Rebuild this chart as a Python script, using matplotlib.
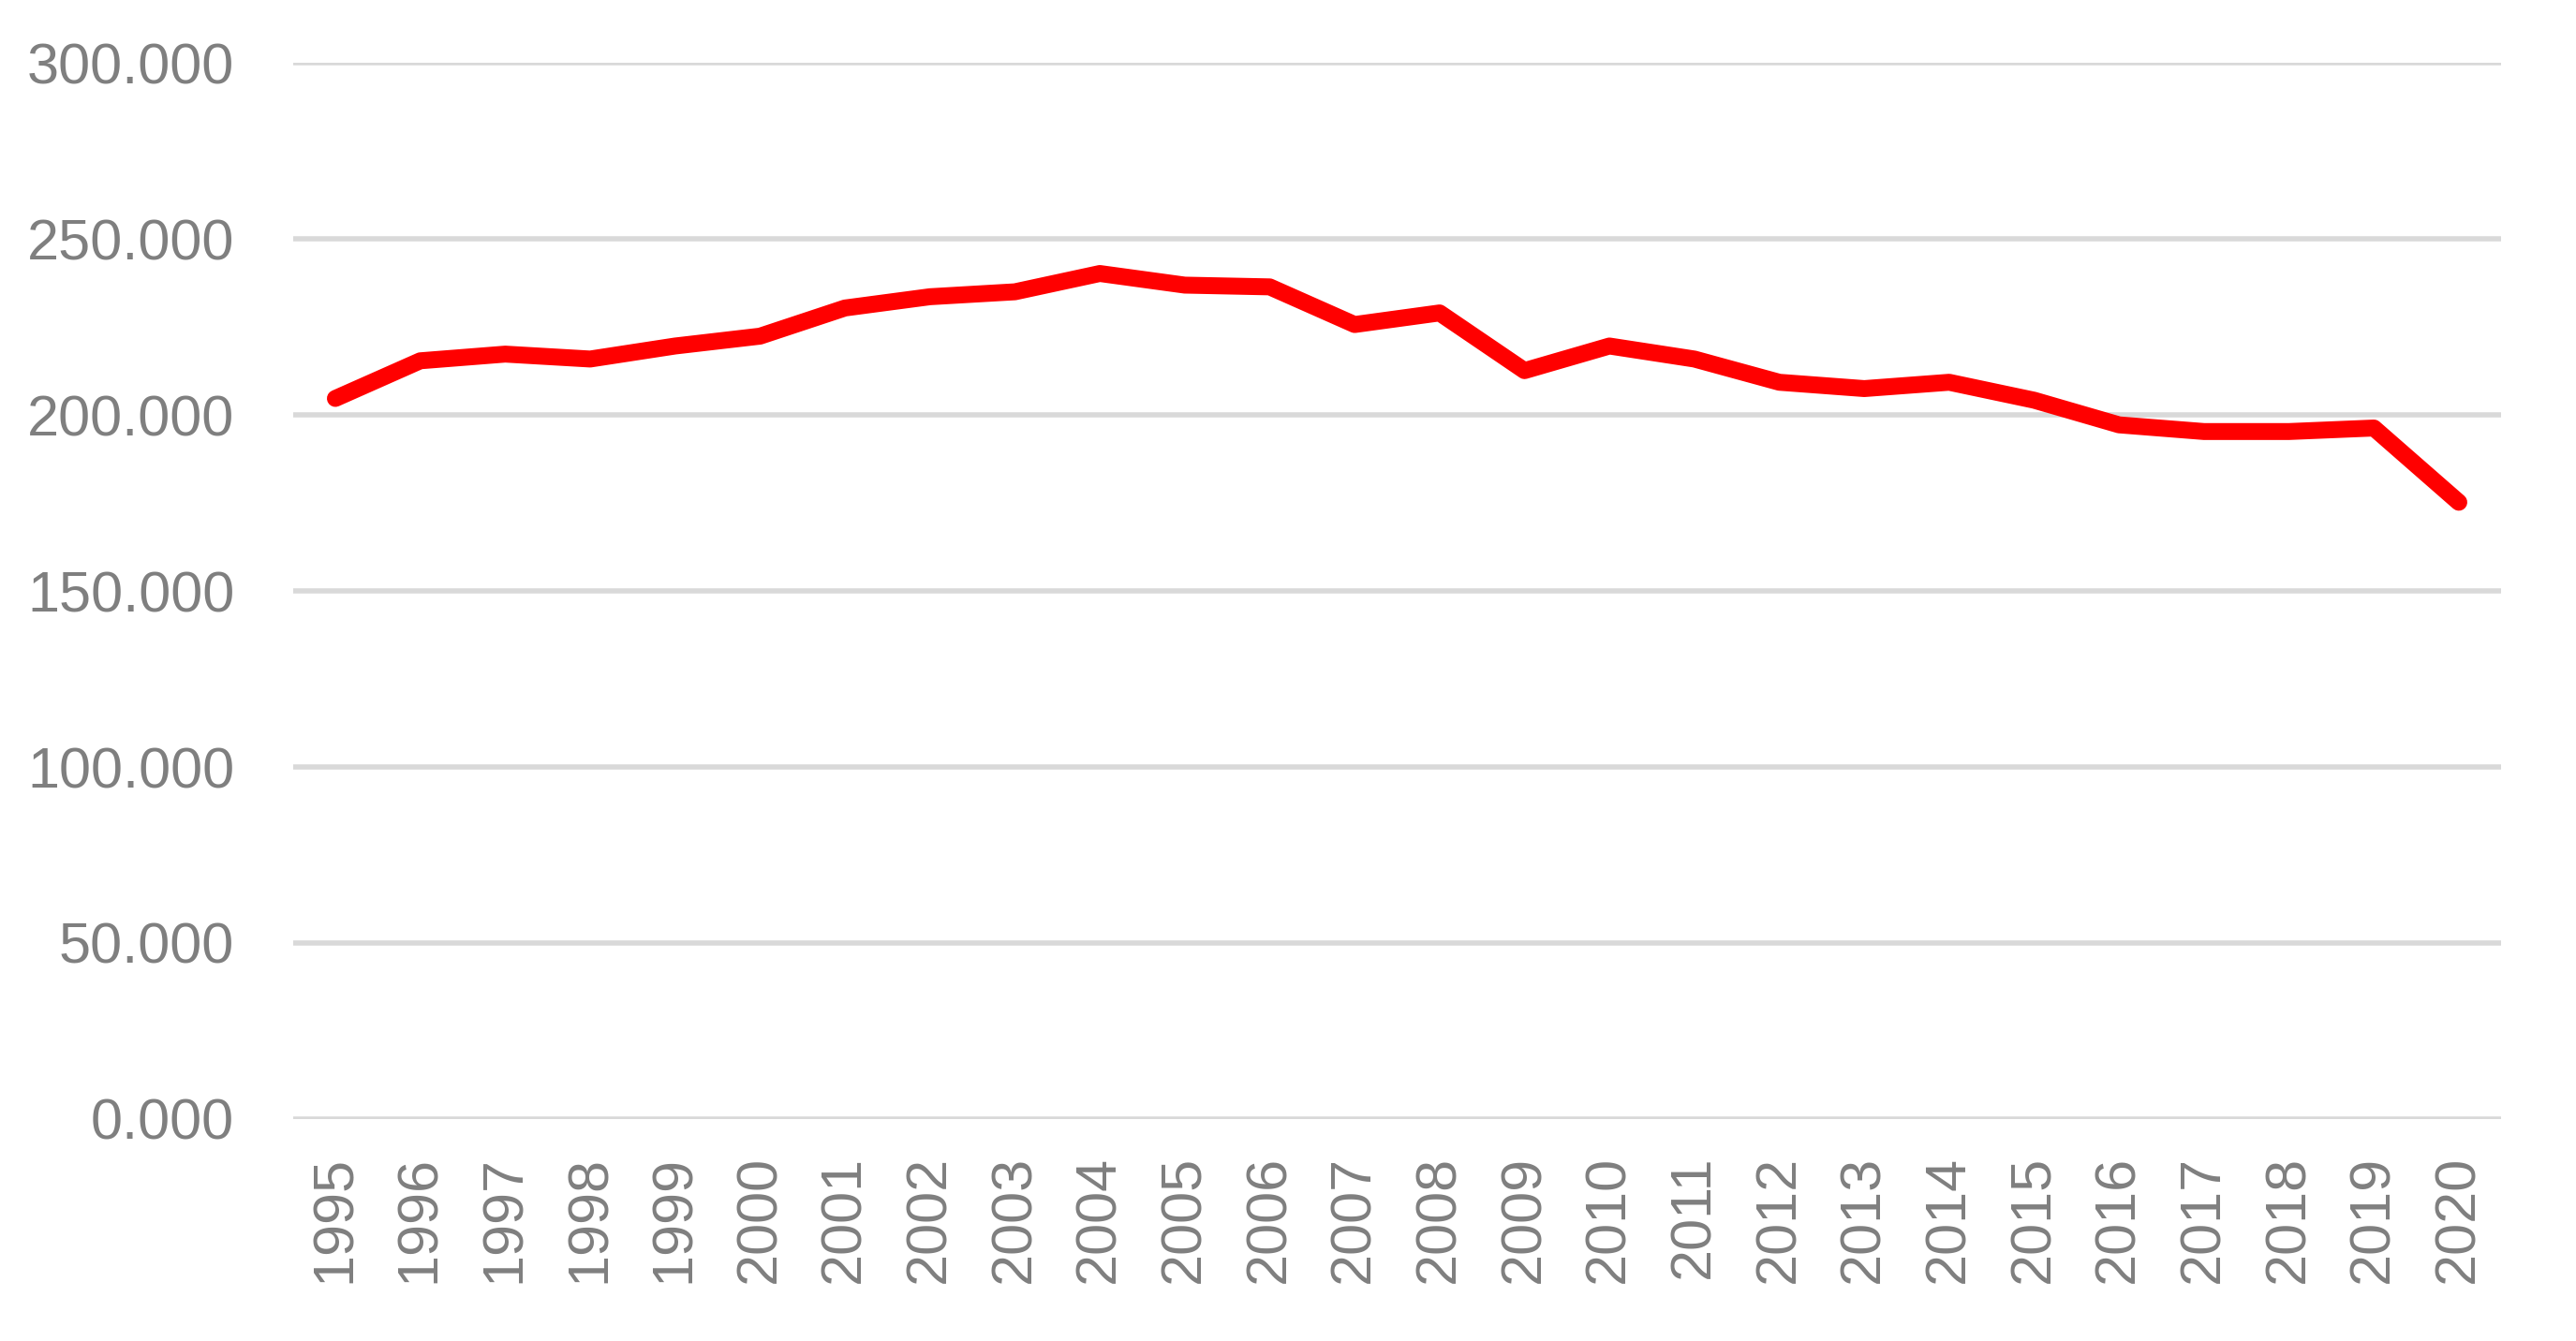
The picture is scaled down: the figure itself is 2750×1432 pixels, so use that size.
import matplotlib
matplotlib.use("Agg")
import matplotlib.pyplot as plt
from matplotlib.ticker import FuncFormatter, MultipleLocator

# valores (miles)
years = list(range(1995, 2021))
values = [204.7, 215.4, 217.3, 215.9, 219.6, 222.4, 230.4, 233.6, 235.0, 240.2,
          236.9, 236.4, 225.7, 229.0, 212.6, 219.6, 215.9, 209.3, 207.5, 209.3,
          204.2, 197.2, 195.3, 195.3, 196.3, 175.2]

plt.rcParams['font.family'] = ['Liberation Sans', 'DejaVu Sans']
fig = plt.figure(figsize=(27.5, 14.32), dpi=100)
ax = fig.add_axes([0.1137, 0.1656, 0.8573, 0.7874])

ax.plot(years, values, color='#ff0000', linewidth=13, solid_capstyle='round', zorder=3)

ax.set_ylim(0, 300)
ax.set_xlim(1994.5, 2020.5)
ax.yaxis.set_major_locator(MultipleLocator(50))
ax.yaxis.set_major_formatter(FuncFormatter(lambda v, p: f"{v:.3f}"))
ax.set_xticks(years)
ax.set_xticklabels([str(y) for y in years], rotation=90)
ax.grid(axis='y', color='#d9d9d9', linewidth=4)
ax.set_axisbelow(True)
for s in ax.spines.values():
    s.set_visible(False)
ax.tick_params(axis='both', length=0, labelsize=44, labelcolor='#7f7f7f')
ax.tick_params(axis='y', pad=45)
ax.tick_params(axis='x', pad=28)

fig.savefig("out.png", dpi=100)
